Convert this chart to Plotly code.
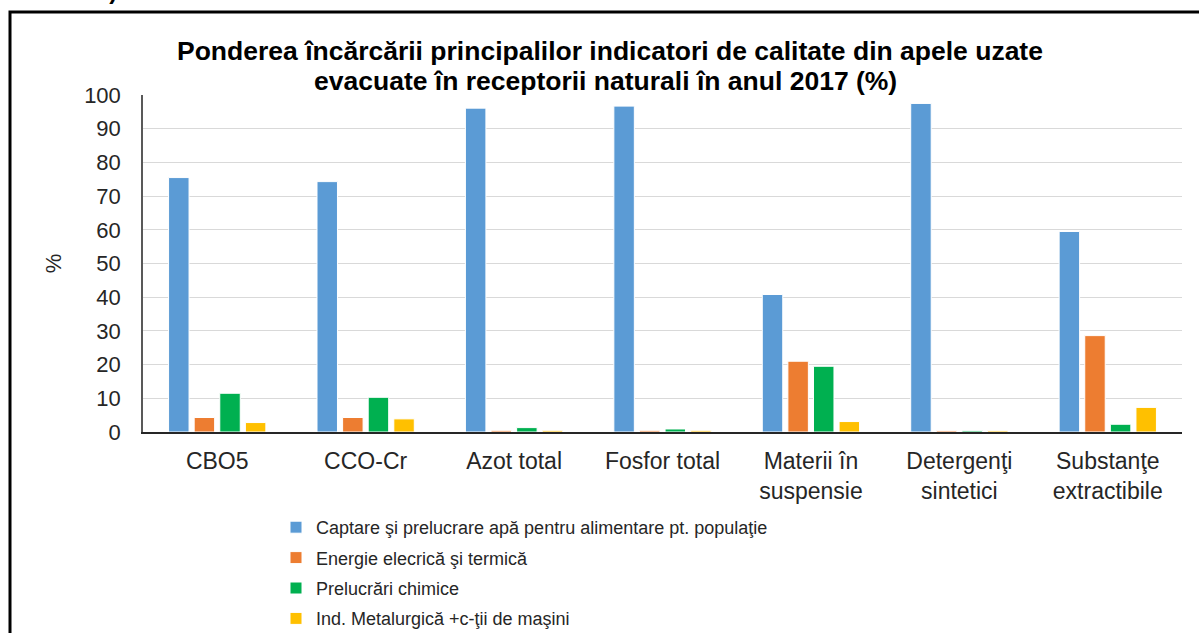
import plotly.graph_objects as go

categories = ["CBO5", "CCO-Cr", "Azot total", "Fosfor total",
              "Materii în<br>suspensie", "Detergenţi<br>sintetici", "Substanţe<br>extractibile"]
series_names = ["Captare şi prelucrare apă pentru alimentare pt. populaţie",
                "Energie elecrică şi termică",
                "Prelucrări chimice",
                "Ind. Metalurgică +c-ţii de maşini"]
captare = [75.5, 74.3, 96.1, 96.7, 40.8, 97.5, 59.5]
energie = [4.3, 4.3, 0.5, 0.5, 21.0, 0.4, 28.6]
chimice = [11.5, 10.3, 1.3, 0.9, 19.5, 0.4, 2.3]
metal = [2.8, 3.9, 0.5, 0.5, 3.1, 0.4, 7.3]
colors = ["#5B9BD5", "#ED7D31", "#00B050", "#FFC000"]
y_ticks = [0, 10, 20, 30, 40, 50, 60, 70, 80, 90, 100]

fig = go.Figure()
for i, (name, vals, col) in enumerate(zip(series_names, [captare, energie, chimice, metal], colors)):
    fig.add_trace(go.Bar(x=categories, y=vals, name=name, marker_color=col,
                         legendgroup=f"g{i}",
                         marker_line=dict(color="white", width=1)))

L, R, T, B = 143, 17, 95, 201
W, H = 1199, 633
pw, ph = W - L - R, H - T - B

def px_x(x):
    return (x - L) / pw

def px_y(y):
    return (H - B - y) / ph

FONT = "Liberation Sans, Arial, sans-serif"
fig.update_layout(
    width=W, height=H,
    margin=dict(l=L, r=R, t=T, b=B, autoexpand=False),
    paper_bgcolor="white", plot_bgcolor="white",
    font=dict(family=FONT, size=18, color="#262626"),
    barmode="group", bargap=0.31, bargroupgap=0.2,
    showlegend=True,
    legend=dict(x=px_x(276), y=px_y(509), xanchor="left", yanchor="top",
                orientation="v", font=dict(size=18, color="#262626"),
                tracegroupgap=4, itemwidth=30, bgcolor="rgba(0,0,0,0)"),
    xaxis=dict(showline=True, linecolor="#262626", linewidth=1.5, ticks="",
               tickfont=dict(size=23, color="#262626"), ticklabelstandoff=8),
    yaxis=dict(range=[0, 100], tickvals=y_ticks, showgrid=True, gridcolor="#D9D9D9",
               gridwidth=1.3, showline=True, linecolor="#595959", linewidth=1.5,
               ticks="", tickfont=dict(size=22, color="#262626"), ticklabelstandoff=16,
               title=dict(text="%", font=dict(size=22, color="#262626"), standoff=16),
               zeroline=False),
)

fig.add_annotation(text="<b>Ponderea încărcării principalilor indicatori de calitate din apele uzate</b>",
                   xref="paper", yref="paper", x=px_x(610), y=px_y(51), showarrow=False,
                   font=dict(size=26.5, color="#000000"), xanchor="center", yanchor="middle")
fig.add_annotation(text="<b>evacuate în receptorii naturali în anul 2017 (%)</b>",
                   xref="paper", yref="paper", x=px_x(605), y=px_y(81), showarrow=False,
                   font=dict(size=26.5, color="#000000"), xanchor="center", yanchor="middle")
fig.add_annotation(text="<b>Romania)</b>",
                   xref="paper", yref="paper", x=px_x(6), y=px_y(-10), showarrow=False,
                   font=dict(size=24, color="#000000"), xanchor="left", yanchor="middle")

fig.add_shape(type="rect", xref="paper", yref="paper",
              x0=px_x(10), x1=px_x(1215), y0=px_y(650), y1=px_y(12),
              line=dict(color="#000000", width=3), fillcolor="rgba(0,0,0,0)", layer="above")

fig.write_html("out.html", config={"displayModeBar": False},
               post_script="document.body.style.margin='0';document.body.style.overflow='hidden';")
